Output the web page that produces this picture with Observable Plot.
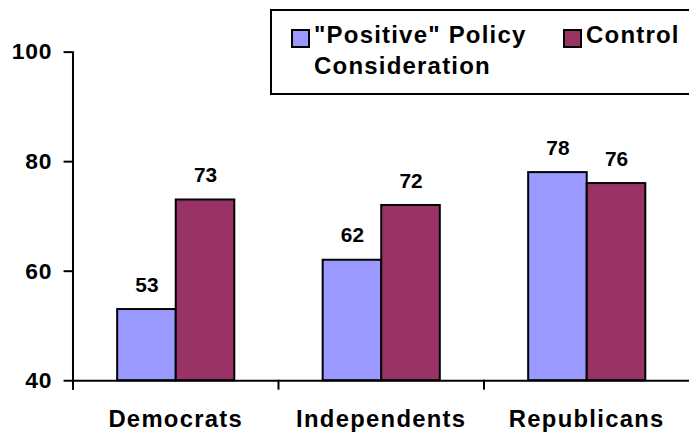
<!DOCTYPE html>
<html>
<head>
<meta charset="utf-8">
<script src="https://cdn.jsdelivr.net/npm/d3@7"></script>
<script src="https://cdn.jsdelivr.net/npm/@observablehq/plot@0.6"></script>
<style>
  html, body { margin: 0; padding: 0; background: #fff; overflow: hidden; }
  #wrap { position: relative; width: 689px; height: 436px; overflow: hidden; font-family: "Liberation Sans", Arial, sans-serif; }
  #legend {
    position: absolute; left: 270px; top: 9px; width: 440px; height: 82px;
    border: 2px solid #000; background: #fff; box-sizing: content-box;
    font-weight: bold; font-size: 24px; letter-spacing: 1.2px; color: #000;
  }
  .item { position: absolute; top: 14px; line-height: 31px; }
  .sw { position: absolute; top: 4px; width: 15px; height: 15px; border: 2px solid #000; }
  .lbl { position: absolute; left: 23px; top: -6px; white-space: nowrap; }
</style>
</head>
<body>
<div id="wrap">
  <div id="chart"></div>
  <div id="legend"></div>
</div>
<script>
// Survey groups and the two treatment conditions
const categories = ["Democrats", "Independents", "Republicans"];
const seriesNames = ['"Positive" Policy Consideration', "Control"];
const positiveValues = [53, 62, 78];
const controlValues = [73, 72, 76];
const yTicks = [40, 60, 80, 100];
const seriesColors = ["#9999FF", "#993366"];

const rows = categories.flatMap((c, i) => [
  {category: c, series: seriesNames[0], value: positiveValues[i]},
  {category: c, series: seriesNames[1], value: controlValues[i]}
]);

const width = 694, height = 436;
const marginTop = 52, marginBottom = 53, marginLeft = 73;
const plotHeight = height - marginTop - marginBottom;

const chart = Plot.plot({
  width, height, marginTop, marginBottom, marginLeft, marginRight: 0,
  style: {fontFamily: '"Liberation Sans", Arial, sans-serif', color: "#000", background: "transparent"},
  fx: {domain: categories, padding: 0, label: null},
  x: {domain: seriesNames, paddingInner: 0, paddingOuter: 0.754, axis: null},
  y: {domain: [40, 100], axis: null},
  color: {domain: seriesNames, range: seriesColors},
  marks: [
    Plot.barY(rows, {fx: "category", x: "series", y1: 40, y2: "value", fill: "series", stroke: "#000", strokeWidth: 2}),
    Plot.text(rows, {fx: "category", x: "series", y: "value", text: d => String(d.value),
      lineAnchor: "bottom", dy: -18, fontSize: 21, fontWeight: "bold", fill: "#000"}),
    Plot.ruleY([40], {stroke: "#000", strokeWidth: 2}),
    // vertical axis line, running just past the baseline
    Plot.frame({anchor: "left", facetAnchor: "left", insetBottom: -8, stroke: "#000", strokeWidth: 2}),
    // short separators between the groups below the baseline
    Plot.frame({anchor: "left", insetTop: plotHeight, insetBottom: -8, stroke: "#000", strokeWidth: 2}),
    Plot.axisY({ticks: yTicks, tickSize: 9, tickPadding: 12, fontSize: 23, fontWeight: "bold", strokeWidth: 2, label: null}),
    Plot.axisFx({anchor: "bottom", tickSize: 0, tickPadding: 30, fontSize: 24, fontWeight: "bold", label: null})
  ]
});
document.getElementById("chart").appendChild(chart);

// Wider tracking on the axis labels
d3.select(chart).selectAll('[aria-label="y-axis tick label"] text').style("letter-spacing", "0.8px");
d3.select(chart).selectAll('[aria-label="fx-axis tick label"] text').style("letter-spacing", "1.3px");

// Legend box
const legend = d3.select("#legend");
const items = [
  {left: 19, lines: ['"Positive" Policy', "Consideration"], color: seriesColors[0]},
  {left: 291, lines: ["Control"], color: seriesColors[1]}
];
for (const it of items) {
  const g = legend.append("div").attr("class", "item").style("left", it.left + "px");
  g.append("div").attr("class", "sw").style("background", it.color);
  g.append("div").attr("class", "lbl").html(it.lines.map(l => l.replace(/</g, "&lt;")).join("<br>"));
}
</script>
</body>
</html>
